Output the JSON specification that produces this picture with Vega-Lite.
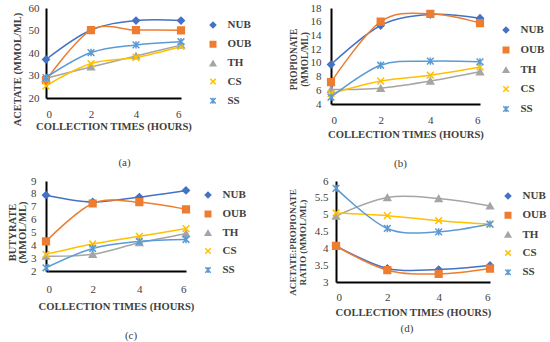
{
  "$schema": "https://vega.github.io/schema/vega-lite/v6.json",
  "padding": {"left": 7, "top": 2, "right": 0, "bottom": 0},
  "background": "white",
  "datasets": {
    "acetate": [
      {"time": 0, "series": "NUB", "value": 37.1}, {"time": 2, "series": "NUB", "value": 50.2}, {"time": 4, "series": "NUB", "value": 54.4}, {"time": 6, "series": "NUB", "value": 54.4},
      {"time": 0, "series": "OUB", "value": 27.9}, {"time": 2, "series": "OUB", "value": 50.2}, {"time": 4, "series": "OUB", "value": 50.2}, {"time": 6, "series": "OUB", "value": 50.1},
      {"time": 0, "series": "TH", "value": 28.8}, {"time": 2, "series": "TH", "value": 33.8}, {"time": 4, "series": "TH", "value": 38.7}, {"time": 6, "series": "TH", "value": 43.5},
      {"time": 0, "series": "CS", "value": 25.4}, {"time": 2, "series": "CS", "value": 35.3}, {"time": 4, "series": "CS", "value": 38.0}, {"time": 6, "series": "CS", "value": 42.9},
      {"time": 0, "series": "SS", "value": 29.1}, {"time": 2, "series": "SS", "value": 40.2}, {"time": 4, "series": "SS", "value": 43.6}, {"time": 6, "series": "SS", "value": 45.0}
    ],
    "propionate": [
      {"time": 0, "series": "NUB", "value": 9.75}, {"time": 2, "series": "NUB", "value": 15.45}, {"time": 4, "series": "NUB", "value": 17.05}, {"time": 6, "series": "NUB", "value": 16.5},
      {"time": 0, "series": "OUB", "value": 7.2}, {"time": 2, "series": "OUB", "value": 16.0}, {"time": 4, "series": "OUB", "value": 17.15}, {"time": 6, "series": "OUB", "value": 15.8},
      {"time": 0, "series": "TH", "value": 6.1}, {"time": 2, "series": "TH", "value": 6.3}, {"time": 4, "series": "TH", "value": 7.35}, {"time": 6, "series": "TH", "value": 8.7},
      {"time": 0, "series": "CS", "value": 5.5}, {"time": 2, "series": "CS", "value": 7.35}, {"time": 4, "series": "CS", "value": 8.2}, {"time": 6, "series": "CS", "value": 9.4},
      {"time": 0, "series": "SS", "value": 5.0}, {"time": 2, "series": "SS", "value": 9.65}, {"time": 4, "series": "SS", "value": 10.25}, {"time": 6, "series": "SS", "value": 10.15}
    ],
    "butyrate": [
      {"time": 0, "series": "NUB", "value": 7.9}, {"time": 2, "series": "NUB", "value": 7.37}, {"time": 4, "series": "NUB", "value": 7.75}, {"time": 6, "series": "NUB", "value": 8.27},
      {"time": 0, "series": "OUB", "value": 4.3}, {"time": 2, "series": "OUB", "value": 7.25}, {"time": 4, "series": "OUB", "value": 7.35}, {"time": 6, "series": "OUB", "value": 6.8},
      {"time": 0, "series": "TH", "value": 3.15}, {"time": 2, "series": "TH", "value": 3.3}, {"time": 4, "series": "TH", "value": 4.2}, {"time": 6, "series": "TH", "value": 4.9},
      {"time": 0, "series": "CS", "value": 3.3}, {"time": 2, "series": "CS", "value": 4.1}, {"time": 4, "series": "CS", "value": 4.7}, {"time": 6, "series": "CS", "value": 5.3},
      {"time": 0, "series": "SS", "value": 2.25}, {"time": 2, "series": "SS", "value": 3.75}, {"time": 4, "series": "SS", "value": 4.3}, {"time": 6, "series": "SS", "value": 4.45}
    ],
    "ratio": [
      {"time": 0, "series": "NUB", "value": 4.07}, {"time": 2, "series": "NUB", "value": 3.4}, {"time": 4, "series": "NUB", "value": 3.37}, {"time": 6, "series": "NUB", "value": 3.49},
      {"time": 0, "series": "OUB", "value": 4.07}, {"time": 2, "series": "OUB", "value": 3.35}, {"time": 4, "series": "OUB", "value": 3.24}, {"time": 6, "series": "OUB", "value": 3.4},
      {"time": 0, "series": "TH", "value": 4.96}, {"time": 2, "series": "TH", "value": 5.51}, {"time": 4, "series": "TH", "value": 5.48}, {"time": 6, "series": "TH", "value": 5.26},
      {"time": 0, "series": "CS", "value": 5.05}, {"time": 2, "series": "CS", "value": 4.97}, {"time": 4, "series": "CS", "value": 4.82}, {"time": 6, "series": "CS", "value": 4.72},
      {"time": 0, "series": "SS", "value": 5.78}, {"time": 2, "series": "SS", "value": 4.59}, {"time": 4, "series": "SS", "value": 4.49}, {"time": 6, "series": "SS", "value": 4.72}
    ]
  },
  "config": {
    "view": {"stroke": null},
    "font": "Liberation Serif",
    "axis": {"grid": false, "ticks": false, "tickSize": 0, "domainColor": "#000000", "domainWidth": 2, "labelFont": "Liberation Serif", "labelFontSize": 11, "labelColor": "#404040", "labelPadding": 7, "titleFont": "Liberation Serif", "titleFontSize": 10.6, "titleFontWeight": "bold", "titleColor": "#404040", "titlePadding": 6, "titleLineHeight": 10.5},
    "legend": {"labelFont": "Liberation Serif", "labelFontSize": 11, "labelFontWeight": "bold", "labelColor": "#404040", "symbolSize": 30, "symbolStrokeWidth": 1.5, "rowPadding": 6.5, "padding": 10, "offset": 14, "labelOffset": 9},
    "title": {"font": "Liberation Serif", "fontSize": 11, "fontWeight": "normal", "color": "#404040", "orient": "bottom", "anchor": "middle", "frame": "group", "offset": 18},
    "line": {"interpolate": "cardinal", "strokeWidth": 1.5},
    "point": {"size": 45, "strokeWidth": 1.5, "opacity": 1}
  },
  "resolve": {"scale": {"stroke": "independent", "fill": "independent", "shape": "independent"}, "legend": {"stroke": "independent", "fill": "independent", "shape": "independent"}},
  "spacing": 6,
  "vconcat": [
    {
      "spacing": 26,
      "resolve": {"scale": {"stroke": "independent", "fill": "independent", "shape": "independent"}, "legend": {"stroke": "independent", "fill": "independent", "shape": "independent"}},
      "hconcat": [
        {
          "width": 135, "height": 90,
          "data": {"name": "acetate"},
          "title": {"text": "(a)", "dx": 11, "offset": 25},
          "encoding": {
            "x": {"field": "time", "type": "quantitative", "scale": {"domain": [0, 6], "nice": false}, "axis": {"values": [0, 2, 4, 6], "title": "COLLECTION TIMES (HOURS)", "labelPadding": 10, "titlePadding": 2}},
            "y": {"field": "value", "type": "quantitative", "scale": {"domain": [20, 60], "nice": false}, "axis": {"values": [20, 30, 40, 50, 60], "title": "ACETATE (MMOL/ML)", "titleFontSize": 10.5, "titleY": 61, "labelPadding": 7, "titlePadding": 6}}
          },
          "layer": [
            {"mark": {"type": "line"}, "encoding": {
              "stroke": {"field": "series", "type": "nominal", "scale": {"domain": ["NUB", "OUB", "TH", "CS", "SS"], "range": ["#4472C4", "#ED7D31", "#A5A5A5", "#FFC000", "#5B9BD5"]}, "legend": {"title": null, "padding": 11.5, "offset": 12, "rowPadding": 6.2}},
              "strokeWidth": {"condition": {"test": "datum.series === 'TH'", "value": 2.5}, "value": 1.5}}},
            {"mark": {"type": "point", "filled": false}, "encoding": {
              "stroke": {"field": "series", "type": "nominal", "scale": {"domain": ["NUB", "OUB", "TH", "CS", "SS"], "range": ["#4472C4", "#ED7D31", "#A5A5A5", "#FFC000", "#5B9BD5"]}, "legend": {"title": null, "padding": 11.5, "offset": 12, "rowPadding": 6.2}},
              "fill": {"field": "series", "type": "nominal", "scale": {"domain": ["NUB", "OUB", "TH", "CS", "SS"], "range": ["#4472C4", "#ED7D31", "#A5A5A5", "#FFC000", "#5B9BD5"]}, "legend": {"title": null, "padding": 11.5, "offset": 12, "rowPadding": 6.2}},
              "shape": {"field": "series", "type": "nominal", "scale": {"domain": ["NUB", "OUB", "TH", "CS", "SS"], "range": ["diamond", "square", "triangle-up", "M-1,-1L1,1M-1,1L1,-1", "M-1,-1L1,1M-1,1L1,-1M0,-1.1L0,1.1"]}, "legend": {"title": null, "padding": 11.5, "offset": 12, "rowPadding": 6.2}}}}
          ]
        },
        {
          "width": 149, "height": 96,
          "data": {"name": "propionate"},
          "title": {"text": "(b)", "dx": -5, "offset": 18},
          "encoding": {
            "x": {"field": "time", "type": "quantitative", "scale": {"domain": [0, 6], "nice": false}, "axis": {"values": [0, 2, 4, 6], "title": "COLLECTION TIMES (HOURS)", "labelPadding": 10, "titlePadding": 4}},
            "y": {"field": "value", "type": "quantitative", "scale": {"domain": [4, 18], "nice": false}, "axis": {"values": [4, 6, 8, 10, 12, 14, 16, 18], "title": ["PROPIONATE", "(MMOL/ML)"], "titleFontSize": 9.3, "titleLineHeight": 11, "titleY": 51, "labelPadding": 10, "titlePadding": 1}}
          },
          "layer": [
            {"mark": {"type": "line"}, "encoding": {
              "stroke": {"field": "series", "type": "nominal", "scale": {"domain": ["NUB", "OUB", "TH", "CS", "SS"], "range": ["#4472C4", "#ED7D31", "#A5A5A5", "#FFC000", "#5B9BD5"]}, "legend": {"title": null, "padding": 16.5, "offset": 1, "rowPadding": 7}}}},
            {"mark": {"type": "point", "filled": false}, "encoding": {
              "stroke": {"field": "series", "type": "nominal", "scale": {"domain": ["NUB", "OUB", "TH", "CS", "SS"], "range": ["#4472C4", "#ED7D31", "#A5A5A5", "#FFC000", "#5B9BD5"]}, "legend": {"title": null, "padding": 16.5, "offset": 1, "rowPadding": 7}},
              "fill": {"field": "series", "type": "nominal", "scale": {"domain": ["NUB", "OUB", "TH", "CS", "SS"], "range": ["#4472C4", "#ED7D31", "#A5A5A5", "#FFC000", "#5B9BD5"]}, "legend": {"title": null, "padding": 16.5, "offset": 1, "rowPadding": 7}},
              "shape": {"field": "series", "type": "nominal", "scale": {"domain": ["NUB", "OUB", "TH", "CS", "SS"], "range": ["diamond", "square", "triangle-up", "M-1,-1L1,1M-1,1L1,-1", "M-1,-1L1,1M-1,1L1,-1M0,-1.1L0,1.1"]}, "legend": {"title": null, "padding": 16.5, "offset": 1, "rowPadding": 7}}}}
          ]
        }
      ]
    },
    {
      "spacing": 33,
      "resolve": {"scale": {"stroke": "independent", "fill": "independent", "shape": "independent"}, "legend": {"stroke": "independent", "fill": "independent", "shape": "independent"}},
      "hconcat": [
        {
          "width": 140, "height": 90,
          "data": {"name": "butyrate"},
          "title": {"text": "(c)", "dx": 15, "offset": 18},
          "encoding": {
            "x": {"field": "time", "type": "quantitative", "scale": {"domain": [0, 6], "nice": false}, "axis": {"values": [0, 2, 4, 6], "title": "COLLECTION TIMES (HOURS)", "labelPadding": 12, "titlePadding": 7}},
            "y": {"field": "value", "type": "quantitative", "scale": {"domain": [2, 9], "nice": false}, "axis": {"values": [2, 3, 4, 5, 6, 7, 8, 9], "title": ["BUTYRATE", "(MMOL/ML)"], "titleFontSize": 10.5, "titleLineHeight": 10, "titleY": 51, "labelPadding": 10, "titlePadding": 3}}
          },
          "layer": [
            {"mark": {"type": "line"}, "encoding": {
              "stroke": {"field": "series", "type": "nominal", "scale": {"domain": ["NUB", "OUB", "TH", "CS", "SS"], "range": ["#4472C4", "#ED7D31", "#A5A5A5", "#FFC000", "#5B9BD5"]}, "legend": {"title": null, "padding": 8.5, "offset": 5, "rowPadding": 6}}}},
            {"mark": {"type": "point", "filled": false}, "encoding": {
              "stroke": {"field": "series", "type": "nominal", "scale": {"domain": ["NUB", "OUB", "TH", "CS", "SS"], "range": ["#4472C4", "#ED7D31", "#A5A5A5", "#FFC000", "#5B9BD5"]}, "legend": {"title": null, "padding": 8.5, "offset": 5, "rowPadding": 6}},
              "fill": {"field": "series", "type": "nominal", "scale": {"domain": ["NUB", "OUB", "TH", "CS", "SS"], "range": ["#4472C4", "#ED7D31", "#A5A5A5", "#FFC000", "#5B9BD5"]}, "legend": {"title": null, "padding": 8.5, "offset": 5, "rowPadding": 6}},
              "shape": {"field": "series", "type": "nominal", "scale": {"domain": ["NUB", "OUB", "TH", "CS", "SS"], "range": ["diamond", "square", "triangle-up", "M-1,-1L1,1M-1,1L1,-1", "M-1,-1L1,1M-1,1L1,-1M0,-1.1L0,1.1"]}, "legend": {"title": null, "padding": 8.5, "offset": 5, "rowPadding": 6}}}}
          ]
        },
        {
          "width": 154, "height": 101,
          "data": {"name": "ratio"},
          "title": {"text": "(d)", "dx": -6, "offset": 5},
          "encoding": {
            "x": {"field": "time", "type": "quantitative", "scale": {"domain": [0, 6], "nice": false}, "axis": {"values": [0, 2, 4, 6], "title": "COLLECTION TIMES (HOURS)", "labelPadding": 9, "titlePadding": 5}},
            "y": {"field": "value", "type": "quantitative", "scale": {"domain": [3, 6], "nice": false}, "axis": {"values": [3, 3.5, 4, 4.5, 5, 5.5, 6], "format": "~g", "title": ["ACETATE:PROPIONATE", "RATIO (MMOL/ML)"], "titleFontSize": 9.2, "titleLineHeight": 9.5, "titleY": 61, "labelPadding": 8, "titlePadding": 7}}
          },
          "layer": [
            {"mark": {"type": "line"}, "encoding": {
              "stroke": {"field": "series", "type": "nominal", "scale": {"domain": ["NUB", "OUB", "TH", "CS", "SS"], "range": ["#4472C4", "#ED7D31", "#A5A5A5", "#FFC000", "#5B9BD5"]}, "legend": {"title": null, "padding": 9.5, "offset": 0, "rowPadding": 6.3}},
              "strokeWidth": {"condition": {"test": "datum.series === 'TH'", "value": 3}, "value": 1.5}}},
            {"mark": {"type": "point", "filled": false}, "encoding": {
              "stroke": {"field": "series", "type": "nominal", "scale": {"domain": ["NUB", "OUB", "TH", "CS", "SS"], "range": ["#4472C4", "#ED7D31", "#A5A5A5", "#FFC000", "#5B9BD5"]}, "legend": {"title": null, "padding": 9.5, "offset": 0, "rowPadding": 6.3}},
              "fill": {"field": "series", "type": "nominal", "scale": {"domain": ["NUB", "OUB", "TH", "CS", "SS"], "range": ["#4472C4", "#ED7D31", "#A5A5A5", "#FFC000", "#5B9BD5"]}, "legend": {"title": null, "padding": 9.5, "offset": 0, "rowPadding": 6.3}},
              "shape": {"field": "series", "type": "nominal", "scale": {"domain": ["NUB", "OUB", "TH", "CS", "SS"], "range": ["diamond", "square", "triangle-up", "M-1,-1L1,1M-1,1L1,-1", "M-1,-1L1,1M-1,1L1,-1M0,-1.1L0,1.1"]}, "legend": {"title": null, "padding": 9.5, "offset": 0, "rowPadding": 6.3}}}}
          ]
        }
      ]
    }
  ]
}
